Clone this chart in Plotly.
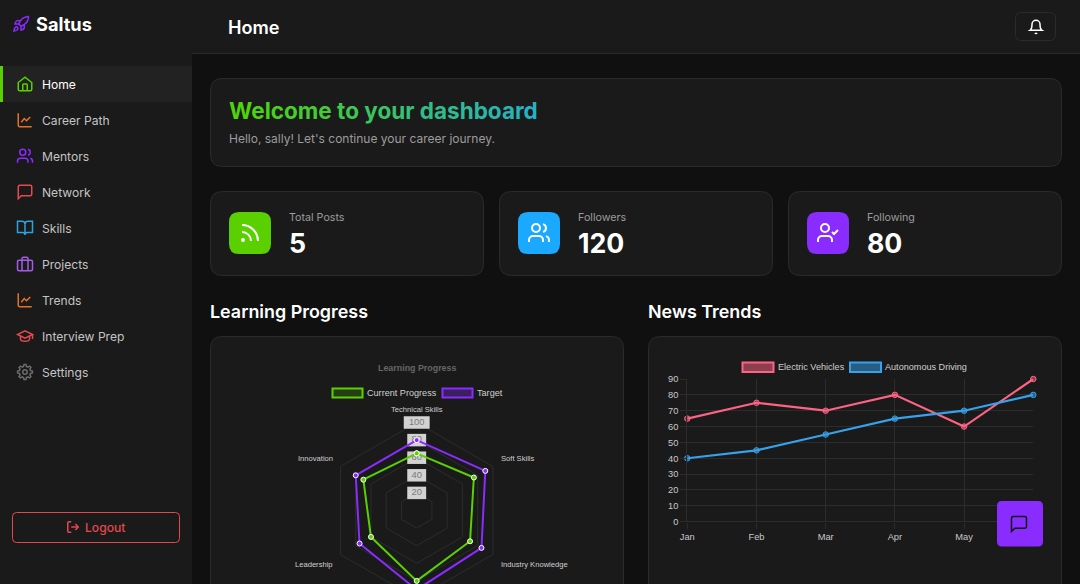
import re
import numpy as np
import plotly.graph_objects as go

W = 1080
H = 640  # taller than the window, the page crops it like the screenshot

# data
radar_labels = ["Technical Skills", "Soft Skills", "Industry Knowledge", "Communication", "Leadership", "Innovation"]
current_progress = [65, 75, 70, 80, 60, 70]
target = [80, 90, 85, 90, 75, 80]
radar_ticks = [20, 40, 60, 80, 100]

months = ["Jan", "Feb", "Mar", "Apr", "May", "Jun"]
electric_vehicles = [65, 75, 70, 80, 60, 90]
autonomous_driving = [40, 45, 55, 65, 70, 80]
y_ticks = [0, 10, 20, 30, 40, 50, 60, 70, 80, 90]

nav_items = ["Home", "Career Path", "Mentors", "Network", "Skills", "Projects", "Trends", "Interview Prep", "Settings"]
stat_labels = ["Total Posts", "Followers", "Following"]
stat_values = ["5", "120", "80"]

# colours
BG = "#101010"
PANEL = "#1a1a1a"
BORDER = "#2b2b2b"
GRID = "#2c2c2c"
GREEN = "#5ad000"
BLUE = "#1aa9ff"
PURPLE = "#8a2bff"
RED = "#e5484d"
ORANGE = "#e2722b"
FONT = "Inter"
CHART_FONT = "Liberation Sans"

shapes = []
annotations = []


def circle(cx, cy, r):
    k = r * 0.5523
    return (f"M{cx - r} {cy} C{cx - r} {cy - k} {cx - k} {cy - r} {cx} {cy - r} "
            f"C{cx + k} {cy - r} {cx + r} {cy - k} {cx + r} {cy} "
            f"C{cx + r} {cy + k} {cx + k} {cy + r} {cx} {cy + r} "
            f"C{cx - k} {cy + r} {cx - r} {cy + k} {cx - r} {cy} Z")


def rr_path(x0, y0, x1, y1, r):
    return (f"M{x0 + r} {y0} L{x1 - r} {y0} Q{x1} {y0} {x1} {y0 + r} L{x1} {y1 - r} "
            f"Q{x1} {y1} {x1 - r} {y1} L{x0 + r} {y1} Q{x0} {y1} {x0} {y1 - r} "
            f"L{x0} {y0 + r} Q{x0} {y0} {x0 + r} {y0} Z")


def box(x0, y0, x1, y1, r=0, fill=None, line=None, width=1, layer="below"):
    s = dict(type="path", xref="x", yref="y", path=rr_path(x0, y0, x1, y1, r), layer=layer,
             fillcolor=fill or "rgba(0,0,0,0)", line=dict(color=line or "rgba(0,0,0,0)", width=width if line else 0))
    shapes.append(s)


def text(x, y, s, size, color, weight=400, anchor="left", family=FONT):
    annotations.append(dict(x=x, y=y, xref="x", yref="y", text=s, showarrow=False, xanchor=anchor, yanchor="middle",
                            borderpad=0, borderwidth=0,
                            font=dict(family=family, size=size, color=color, weight=weight)))


def icon(paths, cx, cy, size, color, width=1.5, layer="below"):
    # icons are drawn in a 24 unit box, scale them to the page
    k = size / 24

    def move(path):
        return re.sub(r"(-?\d+\.?\d*) (-?\d+\.?\d*)",
                      lambda m: f"{cx + (float(m[1]) - 12) * k:.2f} {cy + (float(m[2]) - 12) * k:.2f}", path)

    for p in paths:
        shapes.append(dict(type="path", xref="x", yref="y", path=move(p), layer=layer,
                           line=dict(color=color, width=width), fillcolor="rgba(0,0,0,0)"))


USER_BODY = "M16 21 L16 19 C16 16.8 14.2 15 12 15 L6 15 C3.8 15 2 16.8 2 19 L2 21"
gear_pts = []
for i in range(48):
    a = i / 48 * 2 * np.pi
    tooth = (i + 1) % 6 < 3
    gear_pts.append((12 + (10 if tooth else 7.6) * np.cos(a), 12 + (10 if tooth else 7.6) * np.sin(a)))
GEAR = "M" + " L".join(f"{x:.2f} {y:.2f}" for x, y in gear_pts) + " Z"

ICONS = {
    "home": ["M3 10 L12 3 L21 10 L21 19 Q21 21 19 21 L5 21 Q3 21 3 19 Z",
             "M9 21 L9 13 Q9 12 10 12 L14 12 Q15 12 15 13 L15 21"],
    "chart": ["M3 3 L3 19 Q3 21 5 21 L21 21", "M7 15 L11 10 L14 13 L19 8"],
    "users": [circle(9, 7, 4), USER_BODY, "M22 21 L22 19 C22 17.2 20.8 15.6 19 15.1",
              "M16 3.1 C17.8 3.6 19 5.2 19 7 C19 8.8 17.8 10.4 16 10.9"],
    "message": ["M21 15 Q21 17 19 17 L7 17 L3 21 L3 5 Q3 3 5 3 L19 3 Q21 3 21 5 Z"],
    "book": ["M12 7 L12 21",
             "M2 3 L8 3 C10.2 3 12 4.8 12 7 C12 4.8 13.8 3 16 3 L22 3 L22 18 L15 18 C13.3 18 12 19.3 12 21 C12 19.3 10.7 18 9 18 L2 18 Z"],
    "briefcase": [rr_path(2, 7, 22, 21, 2), "M16 21 L16 5 Q16 3 14 3 L10 3 Q8 3 8 5 L8 21"],
    "cap": ["M22 10 L12 5 L2 10 L12 15 Z", "M6 12 L6 16 C6 18 9 19 12 19 C15 19 18 18 18 16 L18 12", "M22 10 L22 16"],
    "gear": [GEAR, circle(12, 12, 3)],
    "logout": ["M9 21 L5 21 Q3 21 3 19 L3 5 Q3 3 5 3 L9 3", "M16 17 L21 12 L16 7", "M21 12 L9 12"],
    "bell": ["M6 8 C6 4.7 8.7 2 12 2 C15.3 2 18 4.7 18 8 C18 15 21 17 21 17 L3 17 C3 17 6 15 6 8 Z",
             "M10.3 21 C11 22 13 22 13.7 21"],
    "rss": ["M4 11 C8.97 11 13 15.03 13 20", "M4 4 C12.84 4 20 11.16 20 20", circle(5, 19, 1)],
    "usercheck": [circle(9, 7, 4), USER_BODY, "M16 11 L18 13 L22 9"],
    "rocket": ["M4.5 16.5 C3 17.76 2.5 21.5 2.5 21.5 C2.5 21.5 6.24 21 7.5 19.5 C8.21 18.66 8.2 17.37 7.41 16.59 C6.63 15.8 5.34 15.79 4.5 16.5 Z",
               "M12 15 L9 12 C9.53 10.62 10.2 9.3 11 8.05 C13.18 4.56 17 2.5 22 2 C22 4.72 21.22 9.5 16 13 C14.74 13.8 13.4 14.47 12 15 Z",
               "M9 12 L4 12 C4 12 4.55 8.97 6 8 C7.62 6.92 11 8 11 8",
               "M12 15 L12 20 C12 20 15.03 19.45 16 18 C17.08 16.38 16 13 16 13"],
}

# page frame
box(0, 0, W, H, fill=BG)
box(0, 0, 192, H, fill=PANEL)
box(192, 0, W, 53, fill=PANEL)
box(192, 53, W, 54, fill=BORDER)

# sidebar
icon(ICONS["rocket"], 21, 24, 18, PURPLE)
text(36, 24, "Saltus", 18.2, "#ffffff", 700)
box(0, 66, 192, 102, fill="#222222")
box(0, 66, 3, 102, fill=GREEN)
nav_icons = [("home", GREEN), ("chart", ORANGE), ("users", PURPLE), ("message", RED), ("book", "#2ea3e0"),
             ("briefcase", "#a35ce8"), ("chart", ORANGE), ("cap", RED), ("gear", "#6b6b6b")]
for i, (name, (ic, col)) in enumerate(zip(nav_items, nav_icons)):
    y = 84 + 36 * i
    icon(ICONS[ic], 25, y, 18, col)
    text(42, y, name, 12.1, "#ffffff" if i == 0 else "#c4c4c4")
box(12.5, 512.5, 179.5, 542.5, r=4, line=RED, width=1)
icon(ICONS["logout"], 73, 527, 14, RED)
text(85, 527, "Logout", 12.1, RED, 500)

# header
text(228, 27, "Home", 18.1, "#ffffff", 600)
box(1015.5, 12.5, 1055.5, 40.5, r=6, line=BORDER)
icon(ICONS["bell"], 1036, 27, 16, "#ffffff")

# welcome card
box(210.5, 78.5, 1061.5, 166.5, r=12, fill=PANEL, line=BORDER)
title = "Welcome to your dashboard"
c0, c1 = np.array([78, 212, 10]), np.array([38, 178, 195])
spans = []
for i, ch in enumerate(title):
    c = c0 + (c1 - c0) * i / (len(title) - 1)
    spans.append(f'<span style="color:rgb({int(c[0])},{int(c[1])},{int(c[2])})">{ch}</span>')
text(229, 110.5, "".join(spans), 22.5, GREEN, 700)
text(229, 138.5, "Hello, sally! Let's continue your career journey.", 12, "#9c9c9c")

# stat cards
stat_x = [210.5, 499.5, 788.5]
stat_cols = [GREEN, BLUE, PURPLE]
stat_icons = ["rss", "users", "usercheck"]
for x0, lab, val, col, ic in zip(stat_x, stat_labels, stat_values, stat_cols, stat_icons):
    box(x0, 191.5, x0 + 273, 275.5, r=12, fill=PANEL, line=BORDER)
    box(x0 + 18.5, 212, x0 + 60.5, 254, r=10, fill=col)
    icon(ICONS[ic], x0 + 39.5, 233, 24, "#ffffff", width=2)
    text(x0 + 78.5, 217, lab, 10.7, "#9c9c9c")
    text(x0 + 78.5, 242.5, val, 26.7, "#ffffff", 700)

# chart cards
text(210, 311.5, "Learning Progress", 17.9, "#ffffff", 600)
text(648, 311.5, "News Trends", 17.9, "#ffffff", 600)
box(210.5, 336.5, 623.5, H + 20, r=12, fill=PANEL, line=BORDER)
box(648.5, 336.5, 1061.5, H + 20, r=12, fill=PANEL, line=BORDER)

# radar titles, legend and outer labels
text(417, 368, "Learning Progress", 8.9, "#666666", 700, "center", CHART_FONT)
box(332.5, 388.5, 362.5, 397.5, fill="rgba(90,208,0,0.2)", line=GREEN, width=2)
text(367, 392.5, "Current Progress", 9.1, "#d0d0d0", family=CHART_FONT)
box(442.5, 388.5, 472.5, 397.5, fill="rgba(138,43,255,0.3)", line=PURPLE, width=2)
text(477, 392.5, "Target", 9.1, "#d0d0d0", family=CHART_FONT)
text(417, 409, radar_labels[0], 7.6, "#d0d0d0", anchor="center", family=CHART_FONT)
text(501, 458, radar_labels[1], 7.6, "#d0d0d0", family=CHART_FONT)
text(501, 564, radar_labels[2], 7.6, "#d0d0d0", family=CHART_FONT)
text(333, 564, radar_labels[4], 7.6, "#d0d0d0", anchor="right", family=CHART_FONT)
text(333, 458, radar_labels[5], 7.6, "#d0d0d0", anchor="right", family=CHART_FONT)

# line chart legend
box(742.5, 362.5, 773.5, 372, fill="rgba(255,99,132,0.5)", line="#ff6384", width=2)
text(778, 367, "Electric Vehicles", 9.1, "#d0d0d0", family=CHART_FONT)
box(850, 362.5, 881, 372, fill="rgba(54,162,235,0.5)", line="#36a2eb", width=2)
text(885, 367, "Autonomous Driving", 9.1, "#d0d0d0", family=CHART_FONT)

# chat button sits over the chart
box(997, 501, 1043, 546.5, r=5, fill=PURPLE, layer="above")
icon(ICONS["message"], 1019, 524, 20, "#111111", layer="above")

fig = go.Figure()

# chart.js style tick backdrops, thick horizontal line markers behind the value text
fig.add_trace(go.Scatterpolar(
    r=radar_ticks, theta=[radar_labels[0]] * len(radar_ticks), mode="markers+text",
    text=[str(t) for t in radar_ticks], textposition="middle center",
    textfont=dict(family=CHART_FONT, size=9.3, color="#7a7a7a"),
    marker=dict(symbol="line-ew", size=[13.5, 13.5, 13.5, 13.5, 18.5], opacity=1,
                line=dict(color="#d2d2d2", width=12.5)),
    cliponaxis=False, showlegend=False,
))
for vals, col in [(current_progress, GREEN), (target, PURPLE)]:
    fig.add_trace(go.Scatterpolar(
        r=vals + vals[:1], theta=radar_labels + radar_labels[:1], mode="lines+markers",
        line=dict(color=col, width=2),
        marker=dict(size=5, color=col, line=dict(color="#ffffff", width=1)),
        cliponaxis=False, showlegend=False,
    ))

for vals, col, fill in [(electric_vehicles, "#ff6384", "rgba(255,99,132,0.5)"),
                        (autonomous_driving, "#36a2eb", "rgba(54,162,235,0.5)")]:
    fig.add_trace(go.Scatter(
        x=months, y=vals, mode="lines+markers", xaxis="x2", yaxis="y2",
        line=dict(color=col, width=2.2),
        marker=dict(size=5.5, color=fill, line=dict(color=col, width=1)),
        cliponaxis=False, showlegend=False,
    ))

cx, cy, rad = 416.7, 510.5, 88
tick_font = dict(family=CHART_FONT, size=9.3, color="#c8c8c8")
fig.update_layout(
    width=W, height=H, margin=dict(l=0, r=0, t=0, b=0, autoexpand=False),
    paper_bgcolor=BG, plot_bgcolor="rgba(0,0,0,0)", hovermode=False, showlegend=False,
    shapes=shapes, annotations=annotations,
    xaxis=dict(range=[0, W], domain=[0, 1], visible=False, fixedrange=True),
    yaxis=dict(range=[H, 0], domain=[0, 1], visible=False, fixedrange=True),
    xaxis2=dict(domain=[687.3 / W, 1033.3 / W], range=[0, 5], anchor="y2", type="category",
                categoryorder="array", categoryarray=months, tickfont=tick_font,
                showgrid=True, gridcolor=GRID, gridwidth=1, ticks="outside", ticklen=6, tickcolor=GRID,
                showline=False, zeroline=False, fixedrange=True),
    yaxis2=dict(domain=[1 - 521.7 / H, 1 - 379 / H], range=[0, 90], anchor="x2", tickvals=y_ticks,
                tickfont=tick_font, showgrid=True, gridcolor=GRID, gridwidth=1, ticks="outside", ticklen=6,
                tickcolor=GRID, showline=True, linecolor=GRID, linewidth=1,
                zeroline=True, zerolinecolor=GRID, zerolinewidth=1, fixedrange=True),
    polar=dict(
        domain=dict(x=[(cx - rad) / W, (cx + rad) / W], y=[1 - (cy + rad) / H, 1 - (cy - rad) / H]),
        bgcolor="rgba(0,0,0,0)", gridshape="linear",
        radialaxis=dict(range=[0, 100], tickvals=radar_ticks, showticklabels=False, ticks="", showline=False,
                        gridcolor=GRID, gridwidth=1, layer="below traces"),
        angularaxis=dict(type="category", categoryorder="array", categoryarray=radar_labels, rotation=90,
                         direction="clockwise", showticklabels=False, ticks="", showgrid=False,
                         showline=True, linecolor=GRID, linewidth=1, layer="below traces"),
    ),
)

# pin the graph to the window corner, the default body margin would shift it
fig.write_html(
    "out.html",
    config=dict(displayModeBar=False),
    post_script="document.documentElement.style.overflow='hidden';document.body.style.overflow='hidden';"
                "document.body.style.margin='0';var d=document.querySelector('.plotly-graph-div');"
                "d.style.position='fixed';d.style.left='0';d.style.top='0';",
)
